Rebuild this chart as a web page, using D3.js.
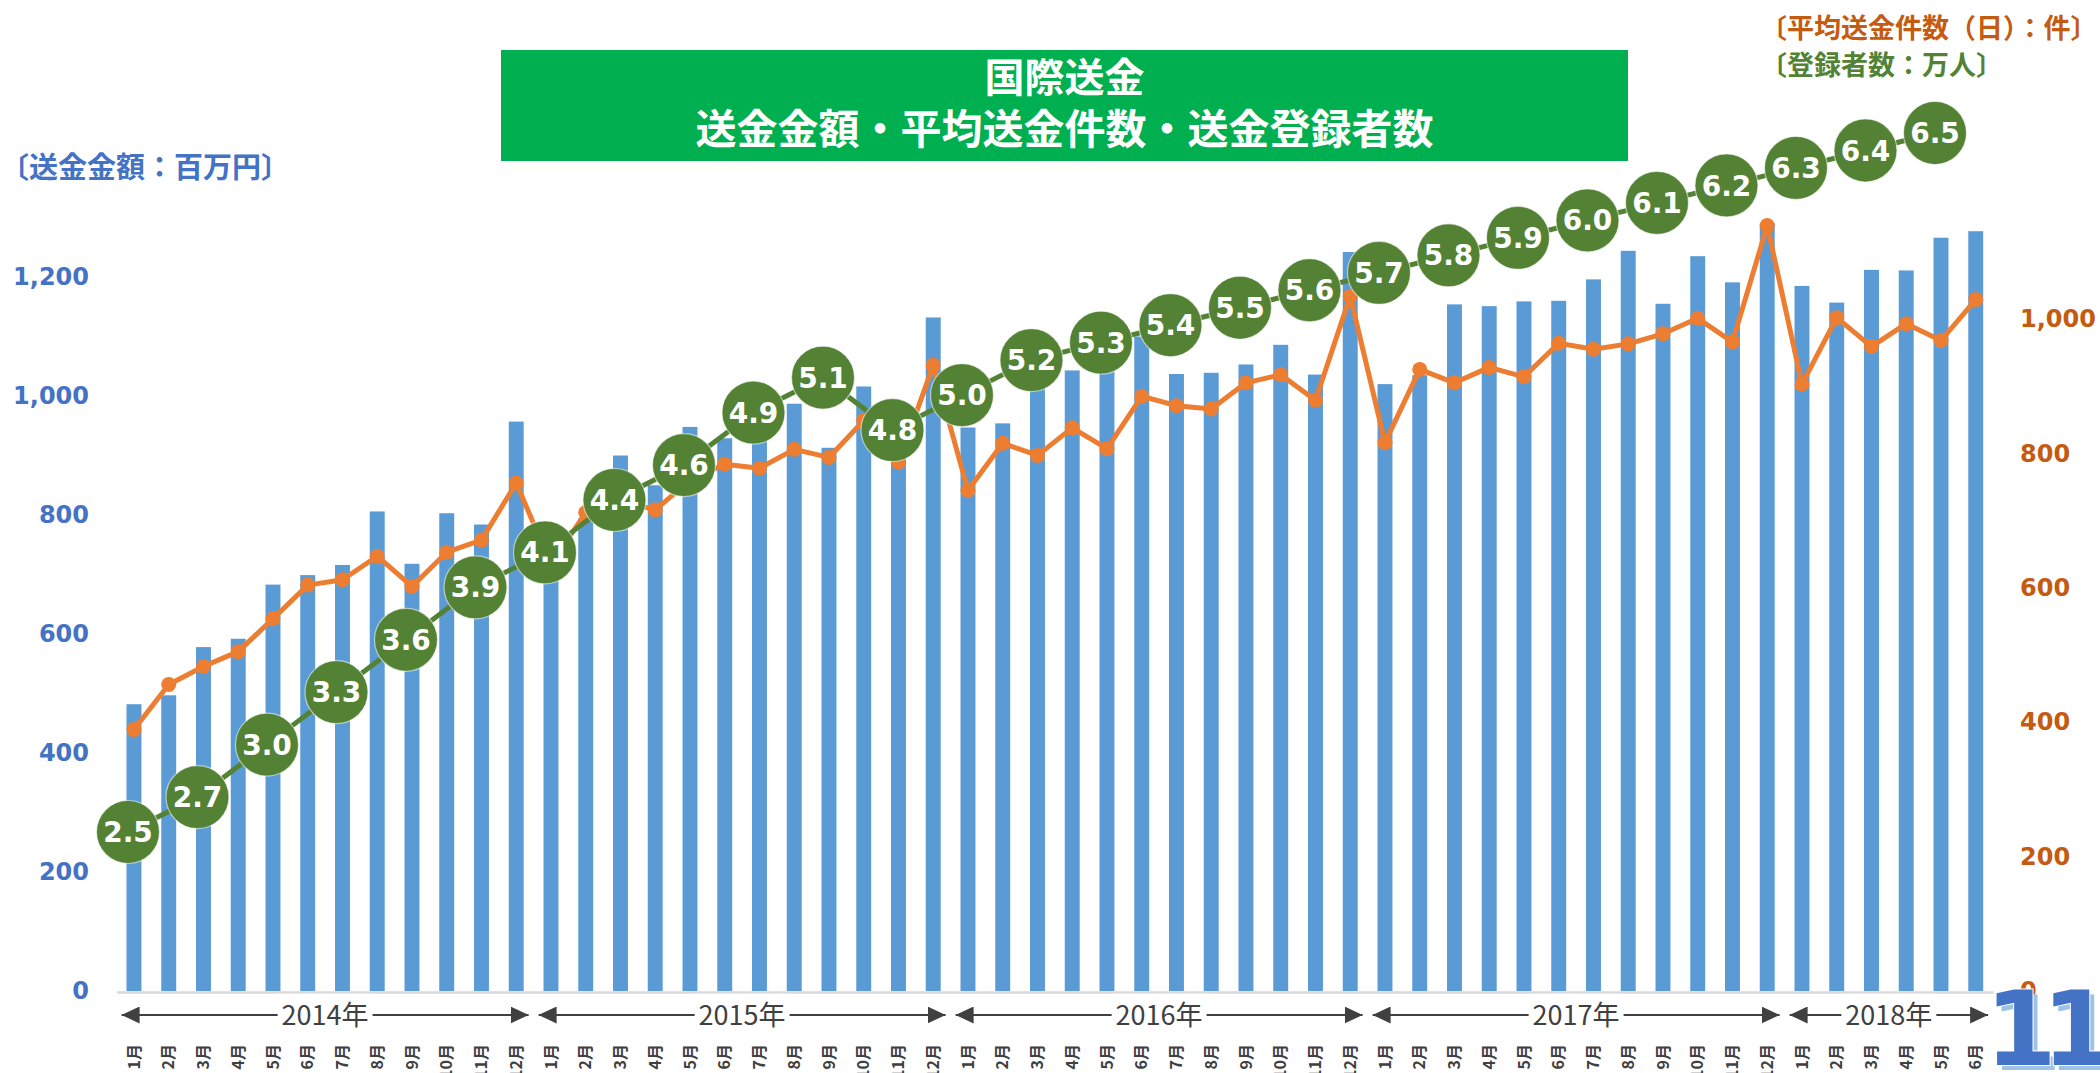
<!DOCTYPE html>
<html lang="ja">
<head>
<meta charset="utf-8">
<title>国際送金 送金金額・平均送金件数・送金登録者数</title>
<script src="https://cdn.jsdelivr.net/npm/d3@7"></script>
<style>
  body { margin: 0; background: #fff; overflow: hidden; }
  #chart svg { display: block; }
</style>
</head>
<body>
<div id="chart"></div>
<script>
// カテゴリ（月）
var months = [
  "2014/01","2014/02","2014/03","2014/04","2014/05","2014/06","2014/07","2014/08","2014/09","2014/10","2014/11","2014/12",
  "2015/01","2015/02","2015/03","2015/04","2015/05","2015/06","2015/07","2015/08","2015/09","2015/10","2015/11","2015/12",
  "2016/01","2016/02","2016/03","2016/04","2016/05","2016/06","2016/07","2016/08","2016/09","2016/10","2016/11","2016/12",
  "2017/01","2017/02","2017/03","2017/04","2017/05","2017/06","2017/07","2017/08","2017/09","2017/10","2017/11","2017/12",
  "2018/01","2018/02","2018/03","2018/04","2018/05","2018/06"
];
var years = ["2014", "2015", "2016", "2017", "2018"];

// 送金金額（百万円）
var amount = [
  482, 497, 578, 592, 683, 699, 716, 806, 718, 803, 784, 957,
  730, 795, 900, 850, 948, 929, 950, 987, 913, 1016, 905, 1132,
  947, 954, 1020, 1043, 1060, 1100, 1037, 1039, 1053, 1086, 1036, 1242,
  1020, 1035, 1154, 1151, 1159, 1160, 1196, 1244, 1155, 1235, 1191, 1290,
  1185, 1157, 1212, 1211, 1266, 1277
];

// 平均送金件数（日）：件
var avgCount = [
  389, 456, 483, 505, 554, 604, 612, 647, 602, 653, 671, 756,
  635, 712, 730, 716, 760, 784, 778, 806, 794, 849, 787, 931,
  745, 815, 797, 838, 807, 885, 871, 866, 905, 917, 879, 1034,
  816, 925, 905, 928, 914, 964, 955, 963, 978, 1001, 966, 1139,
  903, 1002, 959, 993, 968, 1029
];

// 送金登録者数（万人）— 2か月ごと
var regMonths = [
  "2014/01","2014/03","2014/05","2014/07","2014/09","2014/11",
  "2015/01","2015/03","2015/05","2015/07","2015/09","2015/11",
  "2016/01","2016/03","2016/05","2016/07","2016/09","2016/11",
  "2017/01","2017/03","2017/05","2017/07","2017/09","2017/11",
  "2018/01","2018/03","2018/05"
];
var registrants = [
  2.5, 2.7, 3.0, 3.3, 3.6, 3.9,
  4.1, 4.4, 4.6, 4.9, 5.1, 4.8,
  5.0, 5.2, 5.3, 5.4, 5.5, 5.6,
  5.7, 5.8, 5.9, 6.0, 6.1, 6.2,
  6.3, 6.4, 6.5
];

var leftTicks  = [0, 200, 400, 600, 800, 1000, 1200];
var rightTicks = [0, 200, 400, 600, 800, 1000];

var W = 2100, H = 1073;
var jp = '"Noto Sans CJK JP", "Noto Sans", sans-serif';
var num = '"DejaVu Sans", Verdana, sans-serif';

var svg = d3.select("#chart").append("svg")
  .attr("width", W)
  .attr("height", H)
  .style("background", "#fff");

// Scales
var x = d3.scaleBand().domain(months).range([116.6, 1993.1]);
var cx = function(m){ return x(m) + x.bandwidth() / 2; };
var yL = d3.scaleLinear().domain([0, 1200]).range([991, 277]);
var yR = d3.scaleLinear().domain([0, 1000]).range([991, 319]);
var yG = d3.scaleLinear().domain([2.5, 6.5]).range([832, 133]);
var barW = x.bandwidth() * 0.43;

// Title box
svg.append("rect")
  .attr("x", 501).attr("y", 50)
  .attr("width", 1127).attr("height", 111)
  .attr("fill", "#00B050");

svg.append("text")
  .attr("x", 1064.5).attr("y", 78).attr("dy", "0.36em")
  .attr("text-anchor", "middle")
  .style("font-family", jp).style("font-weight", "bold").style("font-size", "40px")
  .attr("fill", "#fff")
  .text("国際送金");

svg.append("text")
  .attr("x", 1064.5).attr("y", 129).attr("dy", "0.36em")
  .attr("text-anchor", "middle")
  .style("font-family", jp).style("font-weight", "bold").style("font-size", "41px")
  .attr("fill", "#fff")
  .text("送金金額・平均送金件数・送金登録者数");

// Axis titles
svg.append("text")
  .attr("x", 0).attr("y", 168).attr("dy", "0.36em")
  .style("font-family", jp).style("font-weight", "bold").style("font-size", "29px")
  .attr("fill", "#4472C4")
  .text("〔送金金額：百万円〕");

svg.append("text")
  .attr("x", 1760).attr("y", 28).attr("dy", "0.36em")
  .style("font-family", jp).style("font-weight", "bold").style("font-size", "27px")
  .attr("fill", "#C55A11")
  .text("〔平均送金件数（日）：件〕");

svg.append("text")
  .attr("x", 1760).attr("y", 65).attr("dy", "0.36em")
  .style("font-family", jp).style("font-weight", "bold").style("font-size", "27px")
  .attr("fill", "#548235")
  .text("〔登録者数：万人〕");

// Bars
svg.append("g").selectAll("rect")
  .data(months)
  .enter().append("rect")
  .attr("x", function(d){ return cx(d) - barW / 2; })
  .attr("y", function(d, i){ return yL(amount[i]); })
  .attr("width", barW)
  .attr("height", function(d, i){ return yL(0) - yL(amount[i]); })
  .attr("fill", "#5B9BD5");

// Category axis
var xAxis = svg.append("g")
  .attr("transform", "translate(0," + 992 + ")")
  .call(d3.axisBottom(x).tickSize(0).tickSizeOuter(0)
    .tickFormat(function(d){ return (+d.split("/")[1]) + "月"; }));
xAxis.select(".domain").attr("stroke", "#D9D9D9").attr("stroke-width", 2.5);
xAxis.selectAll("text")
  .attr("transform", "rotate(-90)")
  .attr("x", -52).attr("y", 0).attr("dy", "0.36em")
  .style("text-anchor", "end")
  .style("font-family", jp).style("font-weight", "bold").style("font-size", "16px")
  .attr("fill", "#404040");

// Year brackets with arrows
var defs = svg.append("defs");
defs.append("marker")
  .attr("id", "arrow")
  .attr("viewBox", "0 0 18 17")
  .attr("refX", 18).attr("refY", 8.5)
  .attr("markerWidth", 18).attr("markerHeight", 17)
  .attr("markerUnits", "userSpaceOnUse")
  .attr("orient", "auto-start-reverse")
  .append("path")
  .attr("d", "M0,0 L18,8.5 L0,17 Z")
  .attr("fill", "#404040");

var yearG = svg.append("g");
years.forEach(function(yr){
  var ms = months.filter(function(m){ return m.indexOf(yr) === 0; });
  var x0 = x(ms[0]) + 5;
  var x1 = x(ms[ms.length - 1]) + x.bandwidth() - 5;
  var ly = 1015;
  yearG.append("line")
    .attr("x1", x0).attr("x2", x1).attr("y1", ly).attr("y2", ly)
    .attr("stroke", "#404040").attr("stroke-width", 2)
    .attr("marker-start", "url(#arrow)")
    .attr("marker-end", "url(#arrow)");
  var bg = yearG.append("rect").attr("fill", "#fff");
  var t = yearG.append("text")
    .attr("x", (x0 + x1) / 2).attr("y", ly).attr("dy", "0.36em")
    .attr("text-anchor", "middle")
    .style("font-family", jp).style("font-size", "27px")
    .attr("fill", "#404040")
    .text(yr + "年");
  var b = t.node().getBBox();
  bg.attr("x", b.x - 4).attr("y", b.y).attr("width", b.width + 8).attr("height", b.height);
});

// Left axis
var leftAxis = svg.append("g")
  .attr("transform", "translate(95,0)")
  .call(d3.axisLeft(yL).tickValues(leftTicks).tickSize(0).tickPadding(6).tickFormat(d3.format(",")));
leftAxis.select(".domain").remove();
leftAxis.selectAll("text")
  .style("font-family", num).style("font-weight", "bold").style("font-size", "24px")
  .attr("fill", "#4472C4");

// Right axis
var rightAxis = svg.append("g")
  .attr("transform", "translate(2014,0)")
  .call(d3.axisRight(yR).tickValues(rightTicks).tickSize(0).tickPadding(6).tickFormat(d3.format(",")));
rightAxis.select(".domain").remove();
rightAxis.selectAll("text")
  .style("font-family", num).style("font-weight", "bold").style("font-size", "24px")
  .attr("fill", "#C55A11");

// Average count line
var countLine = d3.line()
  .x(function(d){ return cx(d); })
  .y(function(d, i){ return yR(avgCount[i]); });

svg.append("path")
  .datum(months)
  .attr("d", countLine)
  .attr("fill", "none")
  .attr("stroke", "#ED7D31")
  .attr("stroke-width", 5)
  .attr("stroke-linejoin", "round");

svg.append("g").selectAll("circle")
  .data(months)
  .enter().append("circle")
  .attr("cx", function(d){ return cx(d); })
  .attr("cy", function(d, i){ return yR(avgCount[i]); })
  .attr("r", 7.5)
  .attr("fill", "#ED7D31");

// Registrants line (bubbles with labels)
var gShift = -6;
var regLine = d3.line()
  .x(function(d){ return cx(d) + gShift; })
  .y(function(d, i){ return yG(registrants[i]); });

svg.append("path")
  .datum(regMonths)
  .attr("d", regLine)
  .attr("fill", "none")
  .attr("stroke", "#548235")
  .attr("stroke-width", 5);

var bubble = svg.append("g").selectAll("g")
  .data(regMonths)
  .enter().append("g")
  .attr("transform", function(d, i){
    return "translate(" + (cx(d) + gShift) + "," + yG(registrants[i]) + ")";
  });

bubble.append("circle")
  .attr("r", 31.5)
  .attr("fill", "#548235")
  .attr("stroke", "rgba(255,255,255,0.55)")
  .attr("stroke-width", 1.2);

bubble.append("text")
  .attr("text-anchor", "middle")
  .attr("dy", "0.36em")
  .style("font-family", num).style("font-weight", "bold").style("font-size", "28px")
  .attr("fill", "#fff")
  .text(function(d, i){ return registrants[i].toFixed(1); });

// Page number
var pg = svg.append("g");
pg.append("text")
  .attr("x", 1990).attr("y", 1070)
  .style("font-family", num).style("font-weight", "bold").style("font-size", "103px")
  .style("letter-spacing", "-15px")
  .attr("fill", "#9DC3E6")
  .text("11");
pg.append("text")
  .attr("x", 1985).attr("y", 1065)
  .style("font-family", num).style("font-weight", "bold").style("font-size", "103px")
  .style("letter-spacing", "-15px")
  .attr("fill", "#4472C4")
  .attr("stroke", "#fff").attr("stroke-width", 2)
  .attr("paint-order", "stroke")
  .text("11");
</script>
</body>
</html>
